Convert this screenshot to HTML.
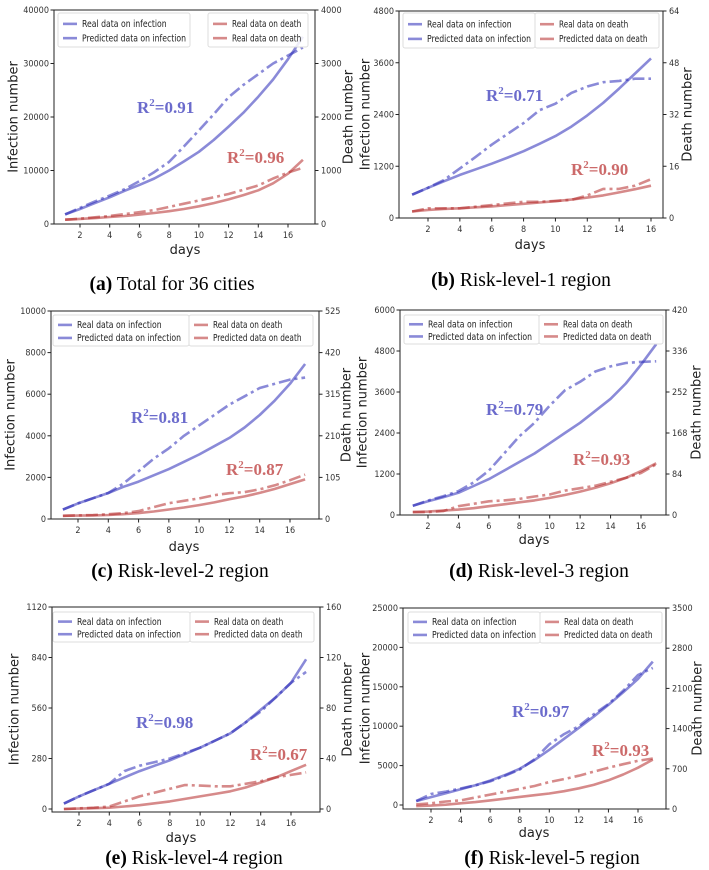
<!DOCTYPE html>
<html><head><meta charset="utf-8">
<style>
body{margin:0;background:#fff;}
svg{display:block;}
.tk{font-family:"DejaVu Sans Condensed","Liberation Sans Narrow","Liberation Sans",sans-serif;font-size:9px;fill:#333;}
.lg{font-family:"DejaVu Sans Condensed","Liberation Sans Narrow","Liberation Sans",sans-serif;font-size:9.5px;fill:#222;}
.at{font-family:"DejaVu Sans","Liberation Sans",sans-serif;font-size:13px;fill:#222;}
.cap{font-family:"Liberation Serif",serif;font-size:19.5px;fill:#000;}
.r2{font-family:"Liberation Serif",serif;font-size:17px;font-weight:bold;}
</style></head>
<body>
<svg id="fig" width="709" height="870" viewBox="0 0 709 870" xmlns="http://www.w3.org/2000/svg"></svg>
<script>
// ---- data (days, values) ----
const days17 = [1,2,3,4,5,6,7,8,9,10,11,12,13,14,15,16,17];
const days16 = [1,2,3,4,5,6,7,8,9,10,11,12,13,14,15,16];
const xTicks = [2,4,6,8,10,12,14,16];

const aRealInf = [1800,3000,4200,5300,6500,8000,9700,11600,14500,17500,20500,23700,26000,28000,30000,31500,33000];
const aPredInf = [1800,2800,3900,5000,6200,7300,8500,10000,11700,13500,15700,18200,20800,23800,27000,30800,35000];
const aRealDeath = [80,100,125,150,185,220,260,320,380,440,500,560,640,720,850,960,1050];
const aPredDeath = [80,95,110,130,150,175,205,240,280,330,390,460,540,630,760,940,1200];
const aLeftTicks = [0,10000,20000,30000,40000];
const aRightTicks = [0,1000,2000,3000,4000];

const bRealInf = [540,700,880,1150,1420,1700,1950,2200,2500,2650,2900,3050,3150,3180,3230,3230];
const bPredInf = [540,700,850,1000,1130,1260,1400,1550,1720,1900,2120,2380,2670,3000,3350,3700];
const bRealDeath = [2,3,3,3,3.5,4,4.5,5,5,5.3,5.6,7,9,9,10,12];
const bPredDeath = [2,2.5,2.8,3,3.3,3.6,4,4.4,4.8,5.2,5.7,6.3,7,7.9,8.9,10];
const bLeftTicks = [0,1200,2400,3600,4800];
const bRightTicks = [0,16,32,48,64];

const cRealInf = [450,750,1000,1250,1700,2300,2900,3400,4000,4500,5000,5500,5900,6300,6500,6700,6800];
const cPredInf = [450,750,1000,1250,1550,1800,2100,2400,2750,3100,3500,3900,4400,5000,5700,6500,7450];
const cRealDeath = [8,9,10,12,15,20,30,40,46,52,60,65,68,75,85,98,112];
const cPredDeath = [8,8.5,9,10,12,15,19,24,29,35,42,50,57,66,76,88,100];
const cLeftTicks = [0,2000,4000,6000,8000,10000];
const cRightTicks = [0,105,210,315,420,525];

const dRealInf = [270,420,550,700,950,1300,1800,2300,2700,3200,3650,3900,4200,4350,4450,4480,4500];
const dPredInf = [270,400,520,650,850,1050,1300,1550,1800,2100,2400,2700,3050,3400,3850,4400,5000];
const dRealDeath = [6,6,8,18,23,28,30,33,38,42,50,55,60,68,76,86,104];
const dPredDeath = [6,7,9,11,14,18,22,26,30,35,41,48,56,65,76,90,106];
const dLeftTicks = [0,1200,2400,3600,4800,6000];
const dRightTicks = [0,84,168,252,336,420];

const eRealInf = [30,70,105,140,210,240,260,280,310,340,380,420,480,540,620,700,760];
const ePredInf = [30,70,105,140,175,210,240,270,305,340,380,420,480,550,620,700,830];
const eRealDeath = [0,0.5,1,2,6,10,13,16,19,18.5,18,18,20,22,25,27,29];
const ePredDeath = [0,0.3,0.6,1,2,3,4.5,6,8,10,12,14,17,21,25,30,35];
const eLeftTicks = [0,280,560,840,1120];
const eRightTicks = [0,40,80,120,160];

const fRealInf = [500,1400,1700,2100,2500,3000,3700,4500,5800,7700,9000,10000,11500,12800,14500,16500,17400];
const fPredInf = [500,1000,1500,2000,2500,3100,3800,4600,5700,7000,8400,9800,11200,12700,14300,16000,18200];
const fRealDeath = [80,100,130,150,200,250,300,350,400,470,520,580,650,720,780,840,880];
const fPredDeath = [50,60,75,100,120,150,180,210,240,270,310,360,420,500,600,720,860];
const fLeftTicks = [0,5000,10000,15000,20000,25000];
const fRightTicks = [0,700,1400,2100,2800,3500];

const r2Inf = ["0.91","0.71","0.81","0.79","0.98","0.97"];
const r2Death = ["0.96","0.90","0.87","0.93","0.67","0.93"];
const captionBold = ["(a)","(b)","(c)","(d)","(e)","(f)"];
const captionText = ["Total for 36 cities","Risk-level-1 region","Risk-level-2 region","Risk-level-3 region","Risk-level-4 region","Risk-level-5 region"];
const deathLegend2 = ["Real data on death","Predicted data on death","Predicted data on death","Predicted data on death","Predicted data on death","Predicted data on death"];

// ---- layout (geometry) ----
const panels = [
 {key:'a',days:days17,ri:aRealInf,pi:aPredInf,rd:aRealDeath,pd:aPredDeath,lt:aLeftTicks,rt:aRightTicks,
  L:54,R:315,T:10,B:224,x2:80,x16:288,ly0:224,ly1:10,ry0:224,ry1:10,
  lg1:[58,13,132,34],lg2:[208,13,100,34],r2a:[137,113],r2b:[227,163],ylx:14,yrx:349,dx:185,dy:254,capx:172,capy:290},
 {key:'b',days:days16,ri:bRealInf,pi:bPredInf,rd:bRealDeath,pd:bPredDeath,lt:bLeftTicks,rt:bRightTicks,
  L:399,R:663,T:11,B:218,x2:428,x16:651,ly0:218,ly1:11,ry0:218,ry1:11,
  lg1:[403,13,132,35],lg2:[535,13,124,35],r2a:[486,101],r2b:[571,175],ylx:366,yrx:688,dx:530,dy:249,capx:521,capy:286},
 {key:'c',days:days17,ri:cRealInf,pi:cPredInf,rd:cRealDeath,pd:cPredDeath,lt:cLeftTicks,rt:cRightTicks,
  L:51,R:319,T:311,B:519,x2:78,x16:290,ly0:519,ly1:311,ry0:519,ry1:311,
  lg1:[53,315,136,31],lg2:[189,315,124,31],r2a:[131,423],r2b:[226,475],ylx:11,yrx:347,dx:184,dy:551,capx:180,capy:577},
 {key:'d',days:days17,ri:dRealInf,pi:dPredInf,rd:dRealDeath,pd:dPredDeath,lt:dLeftTicks,rt:dRightTicks,
  L:400,R:666,T:310,B:515,x2:428,x16:641,ly0:515,ly1:310,ry0:515,ry1:310,
  lg1:[404,315,135,29],lg2:[539,315,124,29],r2a:[486,415],r2b:[573,465],ylx:363,yrx:697,dx:534,dy:544,capx:539,capy:577},
 {key:'e',days:days17,ri:eRealInf,pi:ePredInf,rd:eRealDeath,pd:ePredDeath,lt:eLeftTicks,rt:eRightTicks,
  L:52,R:320,T:607,B:812,x2:79,x16:291,ly0:809,ly1:607,ry0:809,ry1:607,
  lg1:[53,612,137,30],lg2:[190,612,124,30],r2a:[136,728],r2b:[250,760],ylx:15,yrx:348,dx:181,dy:842,capx:194,capy:864},
 {key:'f',days:days17,ri:fRealInf,pi:fPredInf,rd:fRealDeath,pd:fPredDeath,lt:fLeftTicks,rt:fRightTicks,
  L:403,R:666,T:608,B:809,x2:431,x16:638,ly0:805,ly1:608,ry0:809,ry1:608,
  lg1:[408,612,132,31],lg2:[540,612,122,31],r2a:[512,717],r2b:[592,756],ylx:366,yrx:698,dx:534,dy:837,capx:552,capy:864}
];

const NS='http://www.w3.org/2000/svg';
const svg=document.getElementById('fig');
function mk(tag,attrs,parent){const e=document.createElementNS(NS,tag);for(const k in attrs)e.setAttribute(k,attrs[k]);(parent||svg).appendChild(e);return e;}
const BLUE='#2a2ab8', RED='#b52a2a';
const DASH='12 4 3 4';

panels.forEach((p,i)=>{
  const g=mk('g',{});
  
  
  const lMax=p.lt[p.lt.length-1], rMax=p.rt[p.rt.length-1];
  const xs=d=>p.x2+(d-2)*(p.x16-p.x2)/14;
  const ly=v=>p.ly0-(v/lMax)*(p.ly0-p.ly1);
  const ry=v=>p.ry0-(v/rMax)*(p.ry0-p.ry1);
  const series=[[p.ri,ly,BLUE,true,'real-infection-line'],[p.pi,ly,BLUE,false,'predicted-infection-line'],
                [p.rd,ry,RED,true,'real-death-line'],[p.pd,ry,RED,false,'predicted-death-line']];
  series.forEach(s=>{
    const pts=s[0].map((v,j)=>xs(p.days[j]).toFixed(1)+','+s[1](v).toFixed(1)).join(' ');
    const a={points:pts,fill:'none',stroke:s[2],'stroke-width':2.6,'stroke-opacity':0.55,'stroke-linejoin':'round'};
    if(s[3])a['stroke-dasharray']=DASH;
    const pl=mk('polyline',a,g);
    
    
  });
  const fr=mk('rect',{x:p.L,y:p.T,width:p.R-p.L,height:p.B-p.T,fill:'none',stroke:'#222','stroke-width':1},g);
  
  
  xTicks.forEach(t=>{
    const x=xs(t);
    mk('line',{x1:x,x2:x,y1:p.B,y2:p.B+3.5,stroke:'#222'},g);
    const tx=mk('text',{x:x,y:p.B+14,'text-anchor':'middle',class:'tk'},g);
    tx.textContent=t;
    
    
  });
  p.lt.forEach(t=>{
    const y=ly(t);
    mk('line',{x1:p.L-3.5,x2:p.L,y1:y,y2:y,stroke:'#222'},g);
    const tx=mk('text',{x:p.L-5,y:y+3,'text-anchor':'end',class:'tk'},g);
    tx.textContent=t;
    
    
  });
  p.rt.forEach(t=>{
    const y=ry(t);
    mk('line',{x1:p.R,x2:p.R+3.5,y1:y,y2:y,stroke:'#222'},g);
    const tx=mk('text',{x:p.R+6,y:y+3,'text-anchor':'start',class:'tk'},g);
    tx.textContent=t;
    
    
  });
  const my=(p.T+p.B)/2;
  const yl=mk('text',{x:p.ylx,y:my,'text-anchor':'middle',class:'at',transform:`rotate(-90 ${p.ylx} ${my})`,'dominant-baseline':'central'},g);
  yl.textContent='Infection number';
  
  
  const yr=mk('text',{x:p.yrx,y:my,'text-anchor':'middle',class:'at',transform:`rotate(-90 ${p.yrx} ${my})`,'dominant-baseline':'central'},g);
  yr.textContent='Death number';
  
  
  const xt=mk('text',{x:p.dx,y:p.dy,'text-anchor':'middle',class:'at'},g);
  xt.textContent='days';
  
  
  [[p.lg1,BLUE,['Real data on infection','Predicted data on infection'],'infection-legend'],
   [p.lg2,RED,['Real data on death',deathLegend2[i]],'death-legend']].forEach(L=>{
    const [x,y,w,h]=L[0];
    const lg=mk('g',{},g);
    
    
    mk('rect',{x:x,y:y,width:w,height:h,rx:2,fill:'#fff','fill-opacity':0.85,stroke:'#ddd'},lg);
    L[2].forEach((txt,k)=>{
      const yy=y+h*0.32+k*h*0.42;
      const la={x1:x+5,x2:x+19,y1:yy,y2:yy,stroke:L[1],'stroke-width':2.6,'stroke-opacity':0.55};
      const ln=mk('line',la,lg);
      
      
      const t=mk('text',{x:x+24,y:yy+3.3,class:'lg',textLength:(txt.length*3.85).toFixed(1),lengthAdjust:'spacingAndGlyphs'},lg);
      t.textContent=txt;
      
      
    });
  });
  [[p.r2a,'#6b6bcc',r2Inf[i],'r2-infection-label'],[p.r2b,'#cc6a6a',r2Death[i],'r2-death-label']].forEach(R=>{
    const t=mk('text',{x:R[0][0],y:R[0][1],class:'r2',fill:R[1]},g);
    t.innerHTML='R<tspan font-size="11" dy="-7">2</tspan><tspan dy="7">='+R[2]+'</tspan>';
    
    
  });
  const c=mk('text',{x:p.capx,y:p.capy,'text-anchor':'middle',class:'cap'},g);
  c.innerHTML='<tspan font-weight="bold">'+captionBold[i]+'</tspan> '+captionText[i];
  
  
});
</script>
</body></html>
